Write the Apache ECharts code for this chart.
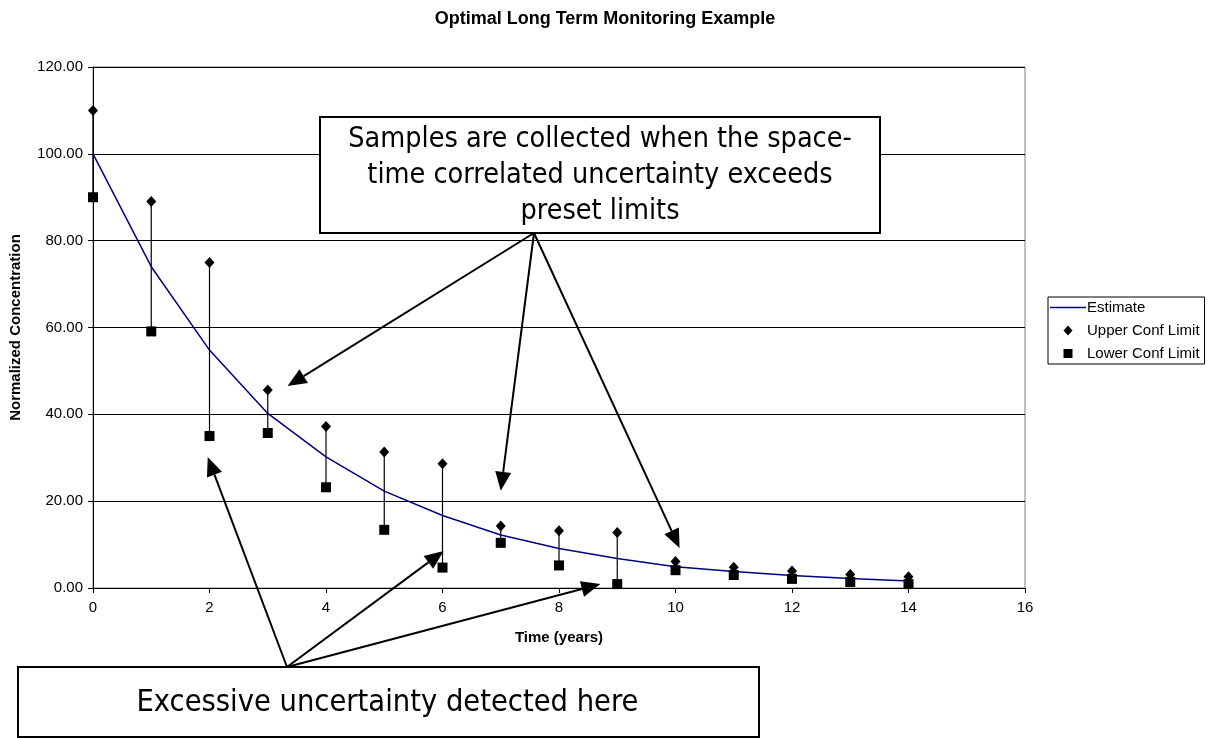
<!DOCTYPE html>
<html>
<head>
<meta charset="utf-8">
<script src="https://cdn.jsdelivr.net/npm/echarts@6/dist/echarts.min.js"></script>
<style>
  html, body { margin: 0; padding: 0; background: #fff; }
  #chart { width: 1210px; height: 738px; }
</style>
</head>
<body>
<div id="chart"></div>
<script>
// values
const years = [0, 1, 2, 3, 4, 5, 6, 7, 8, 9, 10, 11, 12, 13, 14]
const estimate = [100, 74, 54.8, 40.2, 30.2, 22.3, 16.7, 12.2, 9.1, 6.8, 4.9, 3.8, 2.9, 2.2, 1.6]
const upperLimit = [110, 89, 75, 45.6, 37.2, 31.3, 28.6, 14.3, 13.2, 12.8, 6.1, 4.8, 3.9, 3.1, 2.6]
const lowerLimit = [90, 59.1, 35, 35.7, 23.2, 13.4, 4.7, 10.4, 5.2, 0.9, 4.1, 3.0, 2.1, 1.4, 0.9]

// callouts: text and the data points the arrows aim at
const noteTop = 'Samples are collected when the space-\ntime correlated uncertainty exceeds\npreset limits'
const noteBottom = 'Excessive uncertainty detected here'
const topTargets = [[3.34, 46.5], [7.0, 22.4], [10.07, 9.2]]
const bottomTargets = [[1.97, 30.2], [6.02, 8.5], [8.71, 0.9]]

const FONT = "'Liberation Sans', Arial, sans-serif"
const NOTE_FONT = "'DejaVu Sans Condensed', 'DejaVu Sans', sans-serif"

// legend icons: leading moveTo points pin the box so the shapes keep their size
const ICON_LINE = 'path://M0,0 M36,14 M0,6.3 L36,6.3 L36,7.7 L0,7.7 Z'
const ICON_DIAMOND = 'path://M0,0 M36,14 M18,2 L22.5,7 L18,12 L13.5,7 Z'
const ICON_SQUARE = 'path://M0,0 M36,14 M13.5,2.5 L22.5,2.5 L22.5,11.5 L13.5,11.5 Z'

const chart = echarts.init(document.getElementById('chart'))

const zip = (a) => years.map((x, i) => [x, a[i]])

chart.setOption({
  animation: false,
  backgroundColor: '#fff',
  textStyle: { fontFamily: FONT },
  title: {
    text: 'Optimal Long Term Monitoring Example',
    left: 'center',
    top: 5,
    textStyle: { fontFamily: FONT, fontSize: 18, fontWeight: 'bold', color: '#000' },
  },
  grid: {
    left: 92, right: 185, top: 67, bottom: 150,
    show: true, borderColor: '#808080', borderWidth: 1, backgroundColor: 'transparent',
  },
  legend: {
    orient: 'vertical',
    left: 1048,
    top: 297,
    width: 157,
    padding: [3, 5, 3, 2],
    itemGap: 8,
    itemWidth: 36,
    itemHeight: 14,
    borderColor: '#000',
    borderWidth: 1,
    textStyle: { fontFamily: FONT, fontSize: 15, color: '#000', padding: [0, 0, 0, -4] },
    data: [
      { name: 'Estimate', icon: ICON_LINE },
      { name: 'Upper Conf Limit', icon: ICON_DIAMOND },
      { name: 'Lower Conf Limit', icon: ICON_SQUARE },
    ],
  },
  xAxis: {
    type: 'value',
    min: 0,
    max: 16,
    interval: 2,
    name: 'Time (years)',
    nameLocation: 'middle',
    nameGap: 42,
    nameTextStyle: { fontFamily: FONT, fontSize: 15, fontWeight: 'bold', color: '#000' },
    axisLine: { onZero: false, lineStyle: { color: '#000', width: 1 } },
    axisTick: { show: true, length: 5, lineStyle: { color: '#000' } },
    axisLabel: { margin: 12, fontSize: 15, color: '#000', fontFamily: FONT },
    splitLine: { show: false },
  },
  yAxis: {
    type: 'value',
    min: 0,
    max: 120,
    interval: 20,
    name: 'Normalized Concentration',
    nameLocation: 'middle',
    nameGap: 70,
    nameRotate: 90,
    nameTextStyle: { fontFamily: FONT, fontSize: 15, fontWeight: 'bold', color: '#000' },
    axisLine: { show: true, lineStyle: { color: '#000', width: 1 } },
    axisTick: { show: true, length: 5, lineStyle: { color: '#000' } },
    axisLabel: { margin: 10, fontSize: 15, color: '#000', fontFamily: FONT, formatter: (v) => v.toFixed(2) },
    splitLine: { show: true, lineStyle: { color: '#000', width: 1 } },
  },
  series: [
    {
      // error bars between the two limits
      type: 'custom',
      name: 'bars',
      silent: true,
      data: years.map((x, i) => [x, lowerLimit[i], upperLimit[i]]),
      encode: { x: 0, y: [1, 2] },
      renderItem: (params, api) => {
        const lo = api.coord([api.value(0), api.value(1)])
        const hi = api.coord([api.value(0), api.value(2)])
        return {
          type: 'line',
          shape: { x1: lo[0], y1: lo[1], x2: hi[0], y2: hi[1] },
          style: { stroke: '#000', lineWidth: 1.2 },
        }
      },
      z: 2,
    },
    {
      type: 'line',
      name: 'Estimate',
      data: zip(estimate),
      showSymbol: false,
      symbol: 'none',
      lineStyle: { color: '#000080', width: 1.5 },
      itemStyle: { color: '#000080' },
      z: 3,
    },
    {
      type: 'scatter',
      name: 'Upper Conf Limit',
      data: zip(upperLimit),
      symbol: 'diamond',
      symbolSize: [10, 11],
      itemStyle: { color: '#000', opacity: 1 },
      z: 4,
    },
    {
      type: 'scatter',
      name: 'Lower Conf Limit',
      data: zip(lowerLimit),
      symbol: 'rect',
      symbolSize: 10,
      itemStyle: { color: '#000', opacity: 1 },
      z: 4,
    },
  ],
})

// callout boxes and arrows, tips placed through the chart's scales
function arrow(from, to) {
  const dx = to[0] - from[0]
  const dy = to[1] - from[1]
  const len = Math.sqrt(dx * dx + dy * dy)
  const ux = dx / len, uy = dy / len
  const headLen = 19, headHalf = 8
  const bx = to[0] - ux * headLen, by = to[1] - uy * headLen
  return [
    {
      type: 'line',
      shape: { x1: from[0], y1: from[1], x2: bx, y2: by },
      style: { stroke: '#000', lineWidth: 2 },
      z: 200,
    },
    {
      type: 'polygon',
      shape: { points: [to, [bx - uy * headHalf, by + ux * headHalf], [bx + uy * headHalf, by - ux * headHalf]] },
      style: { fill: '#000' },
      z: 200,
    },
  ]
}

const topBox = { x: 320, y: 117, width: 560, height: 116 }
const bottomBox = { x: 18, y: 667, width: 741, height: 70 }
const topAnchor = [534, 233]
const bottomAnchor = [287, 667]

const elements = []
elements.push({
  type: 'rect',
  shape: topBox,
  style: { fill: '#fff', stroke: '#000', lineWidth: 2 },
  z: 150,
})
elements.push({
  type: 'text',
  x: topBox.x + topBox.width / 2,
  y: topBox.y + topBox.height / 2 + 1,
  style: {
    text: noteTop, fontFamily: NOTE_FONT, fontSize: 28.5, lineHeight: 36,
    align: 'center', verticalAlign: 'middle', fill: '#000',
  },
  z: 151,
})
elements.push({
  type: 'rect',
  shape: bottomBox,
  style: { fill: '#fff', stroke: '#000', lineWidth: 2 },
  z: 150,
})
elements.push({
  type: 'text',
  x: bottomBox.x + bottomBox.width / 2 - 1,
  y: bottomBox.y + bottomBox.height / 2 + 1,
  style: {
    text: noteBottom, fontFamily: NOTE_FONT, fontSize: 30.5,
    align: 'center', verticalAlign: 'middle', fill: '#000',
  },
  z: 151,
})
topTargets.forEach((t) => {
  elements.push(...arrow(topAnchor, chart.convertToPixel({ gridIndex: 0 }, t)))
})
bottomTargets.forEach((t) => {
  elements.push(...arrow(bottomAnchor, chart.convertToPixel({ gridIndex: 0 }, t)))
})

chart.setOption({ graphic: { elements } })
</script>
</body>
</html>
